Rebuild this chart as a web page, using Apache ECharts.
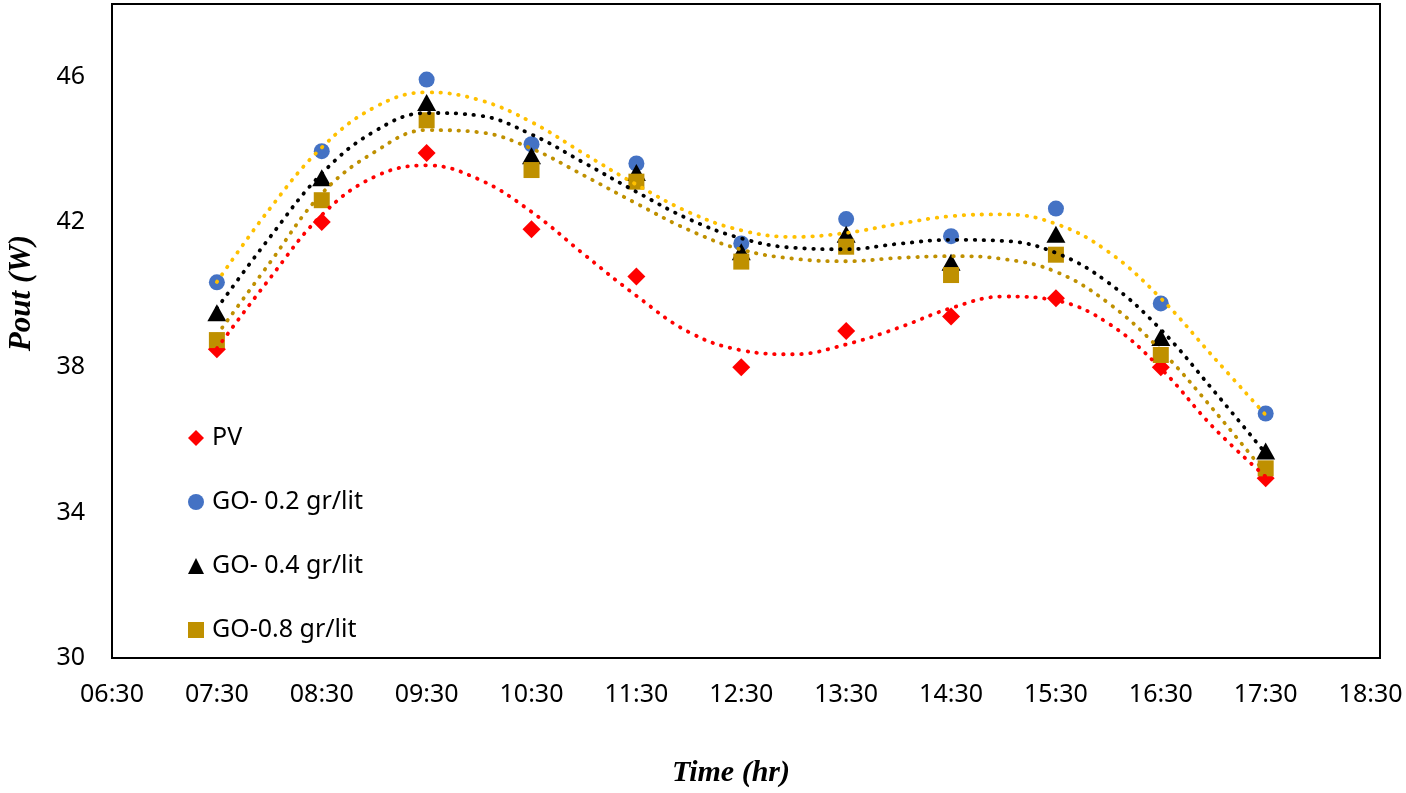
<!DOCTYPE html>
<html>
<head>
<meta charset="utf-8">
<script src="https://cdn.jsdelivr.net/npm/echarts@6/dist/echarts.min.js"></script>
<style>
  html, body { margin: 0; padding: 0; background: #fff; }
  #chart { width: 1406px; height: 793px; }
</style>
</head>
<body>
<div id="chart"></div>
<script>
// ---- data ----
const times = ['07:30','08:30','09:30','10:30','11:30','12:30','13:30','14:30','15:30','16:30','17:30'];
const pv    = [38.5, 42.0, 43.9, 41.8, 40.5, 38.0, 39.0, 39.4, 39.9, 38.0, 34.95];
const go02  = [40.34, 43.95, 45.92, 44.14, 43.61, 41.41, 42.08, 41.61, 42.37, 39.76, 36.73];
const go04  = [39.5, 43.22, 45.29, 43.82, 43.36, 41.18, 41.66, 40.89, 41.66, 38.82, 35.7];
const go08  = [38.75, 42.6, 44.8, 43.43, 43.11, 40.91, 41.32, 40.54, 41.1, 38.34, 35.22];

// dotted trend lines, every half hour
const trendTimes = ['07:30','08:00','08:30','09:00','09:30','10:00','10:30','11:00','11:30','12:00','12:30',
                    '13:00','13:30','14:00','14:30','15:00','15:30','16:00','16:30','17:00','17:30'];
const pvTrend   = [38.52,40.43,42.19,43.24,43.56,43.17,42.28,41.11,39.97,38.97,38.47,38.36,38.63,39.09,39.63,39.95,39.84,39.21,37.97,36.35,34.99];
const go02Trend = [40.35,42.35,44.05,45.15,45.57,45.36,44.75,43.88,43.03,42.27,41.77,41.59,41.70,41.95,42.16,42.21,41.95,41.18,39.90,38.29,36.69];
const go04Trend = [39.62,41.56,43.33,44.49,45.00,44.93,44.41,43.63,42.83,42.08,41.55,41.29,41.25,41.40,41.51,41.48,41.15,40.33,39.04,37.37,35.63];
const go08Trend = [38.89,40.86,42.78,43.92,44.53,44.47,44.02,43.28,42.51,41.78,41.24,40.99,40.92,41.01,41.06,40.98,40.63,39.77,38.47,36.84,35.08];

const xTickLabels = ['06:30','07:30','08:30','09:30','10:30','11:30','12:30','13:30','14:30','15:30','16:30','17:30','18:30'];
const yTickLabels = [30, 34, 38, 42, 46];

const seriesNames = ['PV', 'GO- 0.2 gr/lit', 'GO- 0.4 gr/lit', 'GO-0.8 gr/lit'];

// ---- helpers ----
function toHours(t) { const p = t.split(':'); return +p[0] + (+p[1]) / 60; }
function fmt(h) {
  const hh = Math.floor(h + 1e-6), mm = Math.round((h - hh) * 60);
  return String(hh).padStart(2, '0') + ':' + String(mm).padStart(2, '0');
}
function pairs(ts, vs) { return ts.map((t, i) => [toHours(t), vs[i]]); }

const chart = echarts.init(document.getElementById('chart'), null, { renderer: 'canvas' });

const markerDefs = [
  { name: seriesNames[0], data: pv,   symbol: 'diamond',  size: [18, 18], color: '#FF0000' },
  { name: seriesNames[1], data: go02, symbol: 'circle',   size: 16,       color: '#4472C4' },
  { name: seriesNames[2], data: go04, symbol: 'triangle', size: [19, 17], color: '#000000' },
  { name: seriesNames[3], data: go08, symbol: 'rect',     size: 16,       color: '#BF9000' }
];
const trendDefs = [
  { data: pvTrend,   color: '#FF0000' },
  { data: go08Trend, color: '#BF9000' },
  { data: go04Trend, color: '#000000' },
  { data: go02Trend, color: '#FFC000' }
];

const series = [];
markerDefs.forEach(d => {
  series.push({
    name: d.name,
    type: 'scatter',
    symbol: d.symbol,
    symbolSize: d.size,
    itemStyle: { color: d.color, opacity: 1 },
    data: pairs(times, d.data),
    z: 2
  });
});
trendDefs.forEach(d => {
  series.push({
    type: 'line',
    smooth: 0.4,
    showSymbol: false,
    symbol: 'none',
    silent: true,
    lineStyle: { color: d.color, width: 3.8, type: [0.5, 8.5], cap: 'round' },
    data: pairs(trendTimes, d.data),
    z: 3
  });
});

const labelFont = { fontFamily: 'Noto Sans', fontSize: 25, color: '#000' };

chart.setOption({
  animation: false,
  backgroundColor: '#fff',
  grid: {
    left: 112, right: 26, top: 4, bottom: 135,
    show: true, borderColor: '#000', borderWidth: 2, backgroundColor: 'transparent'
  },
  xAxis: {
    type: 'value',
    min: 6.5, max: 18.59,
    axisLine: { show: false },
    axisTick: { show: false },
    splitLine: { show: false },
    axisLabel: Object.assign({
      customValues: xTickLabels.map(toHours),
      formatter: v => fmt(v),
      margin: 24
    }, labelFont)
  },
  yAxis: {
    type: 'value',
    min: 30, max: 48,
    axisLine: { show: false },
    axisTick: { show: false },
    splitLine: { show: false },
    axisLabel: Object.assign({
      customValues: yTickLabels,
      margin: 27
    }, labelFont)
  },
  legend: {
    orient: 'vertical',
    left: 183, top: 420,
    itemWidth: 16, itemHeight: 16,
    itemGap: 38,
    itemStyle: { opacity: 1 },
    data: seriesNames,
    textStyle: { fontFamily: 'Noto Sans', fontSize: 25, color: '#000', lineHeight: 26, padding: [0, 0, 0, 3] },
    selectedMode: false
  },
  graphic: [
    {
      type: 'text',
      x: 22, y: 293,
      rotation: Math.PI / 2,
      style: {
        text: 'Pout (W)',
        font: 'italic bold 31px "Liberation Serif"',
        fill: '#000',
        align: 'center', verticalAlign: 'middle'
      }
    },
    {
      type: 'text',
      x: 731, y: 773,
      style: {
        text: 'Time (hr)',
        font: 'italic bold 30px "Liberation Serif"',
        fill: '#000',
        align: 'center', verticalAlign: 'middle'
      }
    }
  ],
  series: series
});
</script>
</body>
</html>
